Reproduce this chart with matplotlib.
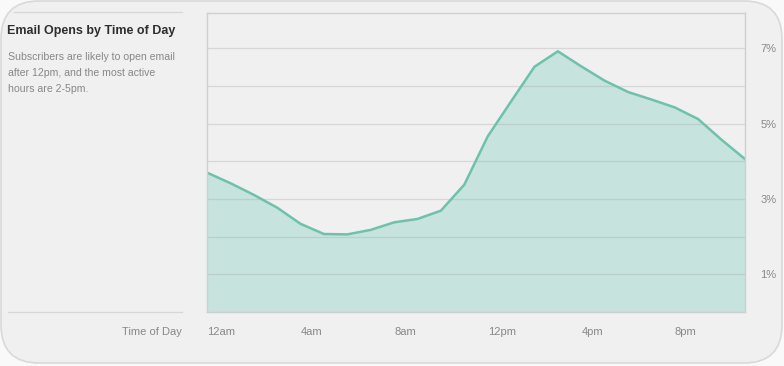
import matplotlib
matplotlib.use("Agg")
import matplotlib.pyplot as plt
from matplotlib.patches import FancyBboxPatch

plt.rcParams['font.family'] = ['Liberation Sans', 'DejaVu Sans']

hours = list(range(24))
opens_pct = [3.70, 3.42, 3.11, 2.77, 2.34, 2.07, 2.06, 2.18, 2.38, 2.47, 2.69, 3.38,
             4.66, 5.59, 6.51, 6.92, 6.52, 6.14, 5.84, 5.64, 5.43, 5.12, 4.57, 4.06]
x_tick_pos = [0, 4, 8, 12, 16, 20]
x_tick_labels = ["12am", "4am", "8am", "12pm", "4pm", "8pm"]
y_tick_pos = [1, 3, 5, 7]
y_tick_labels = ["1%", "3%", "5%", "7%"]
title = "Email Opens by Time of Day"
subtitle = ["Subscribers are likely to open email",
            "after 12pm, and the most active",
            "hours are 2-5pm."]
x_axis_name = "Time of Day"

W, H = 784, 366
fig = plt.figure(figsize=(W / 100, H / 100), dpi=100)
fig.patch.set_facecolor("#f9f9f9")

# background card in pixel coordinates
bg = fig.add_axes([0, 0, 1, 1], zorder=0)
bg.set_xlim(0, W)
bg.set_ylim(H, 0)
bg.axis("off")
card = FancyBboxPatch((1, 1), 781, 362, boxstyle="round,pad=0,rounding_size=38",
                      facecolor="#f0f0f0", edgecolor="#d9d9d9", linewidth=1.2)
bg.add_patch(card)
bg.plot([14, 182], [12, 12], color="#d6d6d6", lw=0.9)
bg.plot([8, 182], [311.5, 311.5], color="#d6d6d6", lw=0.9)
bg.text(7, 31, title, fontsize=9.0, fontweight="bold", color="#2e2e2e", va="center", ha="left")
for i, line in enumerate(subtitle):
    bg.text(8, 57 + 16 * i, line, fontsize=7.6, color="#888888", va="center", ha="left")
bg.text(182, 332, x_axis_name, fontsize=8, color="#888888", va="center", ha="right")

# main chart
left, right, top, bottom = 207, 745, 12.5, 312
ax = fig.add_axes([left / W, 1 - bottom / H, (right - left) / W, (bottom - top) / H], zorder=1)
ax.set_facecolor("#f0f0f0")
ax.fill_between(hours, opens_pct, 0, color="#c6e3dd", zorder=1, linewidth=0)
ax.plot(hours, opens_pct, color="#6fc1ab", lw=1.8, zorder=3, solid_joinstyle="round")
ax.set_xlim(0, 23)
ax.set_ylim(0, 7.95)
for g in range(1, 8):
    ax.axhline(g, color="#a9a9a9", alpha=0.35, lw=0.9, zorder=2)
for s in ax.spines.values():
    s.set_color("#cfcfcf")
    s.set_linewidth(1.0)
    s.set_zorder(4)

ax.set_xticks(x_tick_pos)
ax.set_xticklabels(x_tick_labels, ha="left")
ax.set_yticks(y_tick_pos)
ax.set_yticklabels(y_tick_labels)
ax.yaxis.tick_right()
ax.tick_params(axis="both", length=0, labelsize=8, labelcolor="#888888")
ax.tick_params(axis="x", pad=10.5)
ax.tick_params(axis="y", pad=11)

fig.savefig("out.png", dpi=100)
